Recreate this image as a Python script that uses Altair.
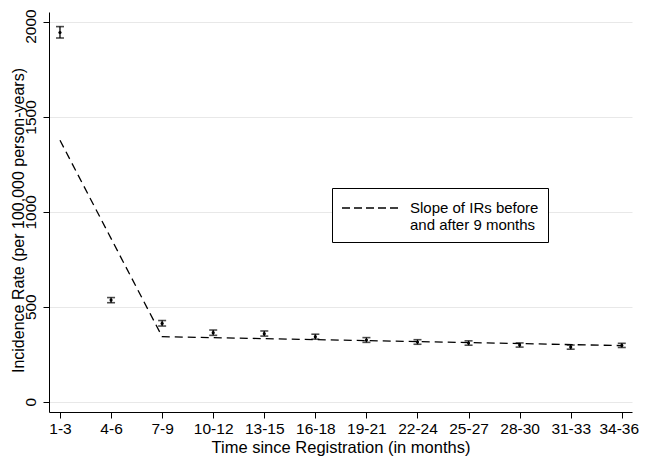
import json
import altair as alt
import pandas as pd

periods = ["1-3", "4-6", "7-9", "10-12", "13-15", "16-18", "19-21",
           "22-24", "25-27", "28-30", "31-33", "34-36"]
rate = [1945, 535, 412, 363, 358, 342, 324, 314, 308, 298, 287, 296]
lower = [1916, 521, 398, 349, 345, 329, 312, 302, 297, 287, 276, 285]
upper = [1976, 548, 427, 377, 372, 355, 337, 326, 320, 309, 298, 307]

slope_x = [1, 3, 12]
slope_y = [1377, 342, 295]
slope_name = "Slope of IRs before and after 9 months"

pts = pd.DataFrame({"idx": list(range(1, len(periods) + 1)), "period": periods,
                    "rate": rate, "lower": lower, "upper": upper})
slope = pd.DataFrame({"idx": slope_x, "rate": slope_y, "series": [slope_name] * len(slope_x)})

label_expr = json.dumps(periods) + "[datum.value - 1]"

xscale = alt.Scale(domain=[0.785, 12.2], nice=False, zero=False)
yscale = alt.Scale(domain=[-55, 2053], nice=False, zero=False)

xaxis = alt.Axis(values=list(range(1, 13)), labelExpr=label_expr, grid=False,
                 title="Time since Registration (in months)", tickSize=6,
                 labelPadding=3, titlePadding=3, labelFontSize=15.5,
                 titleFontSize=16.5,
                 labelOffset=alt.ExprRef(expr="datum.value == 12 ? -3 : 0"))
yaxis = alt.Axis(values=[0, 500, 1000, 1500, 2000], grid=True, tickSize=6,
                 format="d", labelAngle=-90, labelAlign="center", labelBaseline="bottom",
                 labelPadding=5, labelFontSize=15.5,
                 labelOffset=alt.ExprRef(expr="datum.value == 2000 ? 4 : 0"),
                 title="Incidence Rate (per 100,000 person-years)", titleFontSize=16,
                 titleX=-31, titleY=208, titleAngle=-90, titleBaseline="middle",
                 titleAlign="center")

base = alt.Chart(pts)

rules = base.mark_rule(color="black", strokeWidth=1.3).encode(
    x=alt.X("idx:Q", scale=xscale, axis=xaxis),
    y=alt.Y("lower:Q", scale=yscale, axis=yaxis),
    y2="upper:Q",
)
cap_lo = base.mark_tick(color="black", size=8, thickness=1.6, orient="horizontal").encode(
    x=alt.X("idx:Q", scale=xscale), y=alt.Y("lower:Q", scale=yscale))
cap_hi = base.mark_tick(color="black", size=8, thickness=1.6, orient="horizontal").encode(
    x=alt.X("idx:Q", scale=xscale), y=alt.Y("upper:Q", scale=yscale))
dots = base.mark_point(filled=True, color="black", size=10, opacity=1).encode(
    x=alt.X("idx:Q", scale=xscale), y=alt.Y("rate:Q", scale=yscale))

line = alt.Chart(slope).mark_line(strokeDash=[8, 5], strokeWidth=1.3).encode(
    x=alt.X("idx:Q", scale=xscale),
    y=alt.Y("rate:Q", scale=yscale),
    color=alt.Color("series:N", scale=alt.Scale(range=["black"]),
                    legend=alt.Legend(title=None, orient="none", legendX=283, legendY=176,
                                      symbolType="M-1,0H5", symbolSize=400,
                                      symbolDash=[8, 4], symbolStrokeWidth=1.3,
                                      symbolFillColor="transparent",
                                      labelExpr="['Slope of IRs before', 'and after 9 months']",
                                      labelFontSize=15, labelFont="Liberation Sans",
                                      labelColor="black", labelOffset=47,
                                      strokeColor="black", fillColor="white",
                                      padding=9, labelLimit=300)),
)

chart = alt.layer(line, rules, cap_lo, cap_hi, dots).properties(
    width=583, height=400,
    autosize=alt.AutoSizeParams(type="none"),
    padding={"left": 41, "top": 4, "right": 7, "bottom": 50},
).configure_view(stroke=None).configure_axis(
    domainColor="black", tickColor="black", labelColor="black", titleColor="black",
    labelFont="Liberation Sans", titleFont="Liberation Sans",
    titleFontWeight="normal",
    gridColor="#e8e8e8", gridWidth=1,
)

chart.save("out.html", embed_options={"renderer": "svg", "actions": False})
